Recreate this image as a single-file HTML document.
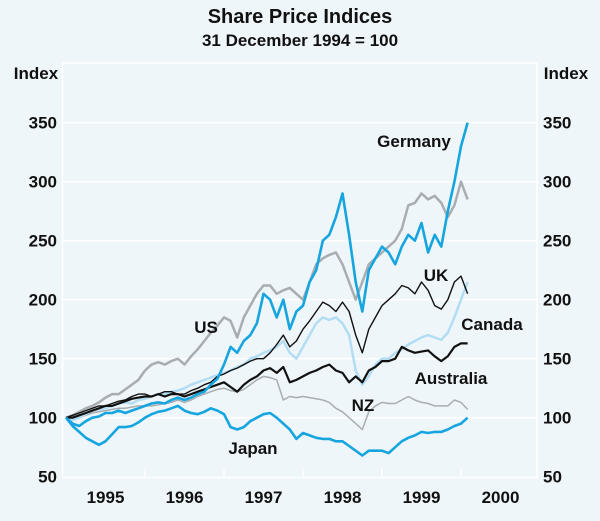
<!DOCTYPE html>
<html><head><meta charset="utf-8"><style>
body{margin:0;background:#eef6fa;}
svg{display:block;font-family:"Liberation Sans",Arial,sans-serif;}
</style></head><body>
<svg width="600" height="521" viewBox="0 0 600 521">
<rect x="0" y="0" width="600" height="521" fill="#eef6fa"/>
<text x="300" y="23" text-anchor="middle" font-size="20" font-weight="bold" fill="#111">Share Price Indices</text>
<text x="300" y="46" text-anchor="middle" font-size="17" font-weight="bold" fill="#111">31 December 1994 = 100</text>
<text x="36" y="79" text-anchor="middle" font-size="17" font-weight="bold" fill="#111">Index</text>
<text x="566" y="79" text-anchor="middle" font-size="17" font-weight="bold" fill="#111">Index</text>
<rect x="62.5" y="63" width="474.5" height="414.5" fill="none" stroke="#fff" stroke-width="1.5"/>
<g id="grid"></g><g id="ticks"></g><g id="series"></g>
<g font-size="17" font-weight="bold" fill="#111">
<text x="414" y="147" text-anchor="middle">Germany</text>
<text x="206" y="333" text-anchor="middle">US</text>
<text x="436" y="281" text-anchor="middle">UK</text>
<text x="492" y="330" text-anchor="middle">Canada</text>
<text x="451" y="384" text-anchor="middle">Australia</text>
<text x="363" y="411" text-anchor="middle">NZ</text>
<text x="253" y="454" text-anchor="middle">Japan</text>
</g>
</svg>
<script>
const yTicks=[50,100,150,200,250,300,350];
const years=["1995","1996","1997","1998","1999","2000"];
const germany=[100,95,93,97,100,101,104,104,106,104,106,108,
110,112,113,112,115,117,115,117,120,122,128,133,
145,160,155,165,170,180,205,200,185,200,175,190,
195,215,225,250,255,270,290,255,215,190,225,235,
245,240,230,245,255,250,265,240,255,245,275,300,
330,350];
const us=[100,102,105,108,110,113,117,120,120,124,128,132,
140,145,147,145,148,150,145,152,158,165,172,178,
185,182,168,185,195,205,212,212,205,208,210,205,
200,215,230,235,238,240,230,215,200,215,230,235,
240,245,250,260,280,282,290,285,288,282,270,280,
300,285];
const uk=[100,102,104,106,108,110,110,112,114,115,118,120,
120,118,120,122,122,120,120,123,125,128,130,135,
137,140,142,145,148,150,150,155,162,170,160,165,
175,182,190,198,195,190,198,190,170,155,175,185,
195,200,205,212,210,205,215,208,195,192,200,215,
220,205];
const canada=[100,98,100,103,106,107,108,110,112,113,112,115,
116,118,120,120,122,123,125,128,130,132,134,136,
138,140,143,145,150,152,155,157,160,165,155,150,
160,170,180,185,183,185,180,170,140,128,135,145,
150,150,155,158,162,165,168,170,168,166,172,185,
200,215];
const australia=[100,100,102,104,106,108,110,110,112,114,116,117,
118,118,120,118,120,120,118,120,122,124,126,128,
130,126,122,128,132,135,140,142,138,143,130,132,
135,138,140,143,145,140,138,130,135,130,140,143,
148,148,150,160,157,155,156,157,152,148,152,160,
163,163];
const nz=[100,99,100,102,104,105,106,107,108,108,109,110,
110,110,111,112,113,115,113,115,118,120,122,124,
125,123,122,124,128,132,135,134,132,115,118,117,
118,117,116,115,113,108,105,100,95,90,105,110,
113,112,112,115,118,115,113,112,110,110,110,115,
113,107];
const japan=[100,93,88,83,80,77,80,86,92,92,93,96,
100,103,105,106,108,110,106,104,103,105,108,106,
103,92,90,92,97,100,103,104,100,95,90,82,
87,85,83,82,82,80,80,76,72,68,72,72,
72,70,75,80,83,85,88,87,88,88,90,93,
95,100];
const X0=66, YEARW=79, Y100=417.7, PX50=59;
const xs=m=>X0+YEARW*m/12;
const ys=v=>Y100-(v-100)/50*PX50;
const NS="http://www.w3.org/2000/svg";
const grid=document.getElementById('grid'), ticks=document.getElementById('ticks'), ser=document.getElementById('series');
yTicks.forEach(v=>{
  const y=ys(v);
  if(v>50){const l=document.createElementNS(NS,'line');
  l.setAttribute('x1',62.5);l.setAttribute('x2',537);l.setAttribute('y1',y);l.setAttribute('y2',y);
  l.setAttribute('stroke','#fff');l.setAttribute('stroke-width','1.5');
  
  
  grid.appendChild(l);}
  const t=document.createElementNS(NS,'text');
  t.setAttribute('x',57);t.setAttribute('y',y+6);t.setAttribute('text-anchor','end');
  t.setAttribute('font-size','17');t.setAttribute('font-weight','bold');t.setAttribute('fill','#111');
  t.textContent=v;
  
  
  ticks.appendChild(t);
  const t2=t.cloneNode(true);
  t2.setAttribute('x',543);t2.setAttribute('text-anchor','start');
  
  
  ticks.appendChild(t2);
});
years.forEach((yr,i)=>{
  const xt=X0+YEARW*(i+1);
  if(i<5){const l=document.createElementNS(NS,'line');
  l.setAttribute('x1',xt);l.setAttribute('x2',xt);l.setAttribute('y1',469);l.setAttribute('y2',477.5);
  l.setAttribute('stroke','#fff');l.setAttribute('stroke-width','1.5');
  
  
  ticks.appendChild(l);}
  const t=document.createElementNS(NS,'text');
  t.setAttribute('x',X0+YEARW*(i+0.5));t.setAttribute('y',503);t.setAttribute('text-anchor','middle');
  t.setAttribute('font-size','17');t.setAttribute('font-weight','bold');t.setAttribute('fill','#111');
  t.textContent=yr;
  
  
  ticks.appendChild(t);
});
function line(data,color,w,name){
  const p=document.createElementNS(NS,'polyline');
  p.setAttribute('points',data.map((v,i)=>xs(i).toFixed(1)+','+ys(v).toFixed(1)).join(' '));
  p.setAttribute('fill','none');p.setAttribute('stroke',color);p.setAttribute('stroke-width',w);
  p.setAttribute('stroke-linejoin','round');
  
  
  ser.appendChild(p);
}
line(nz,'#a8adb1',1.5,'series-nz');
line(us,'#a8adb1',2.5,'series-us');
line(canada,'#b3ddf3',2.5,'series-canada');
line(australia,'#111',2.2,'series-australia');
line(uk,'#111',1.4,'series-uk');
line(japan,'#17a5e0',2.6,'series-japan');
line(germany,'#17a5e0',2.6,'series-germany');
</script>
</body></html>
